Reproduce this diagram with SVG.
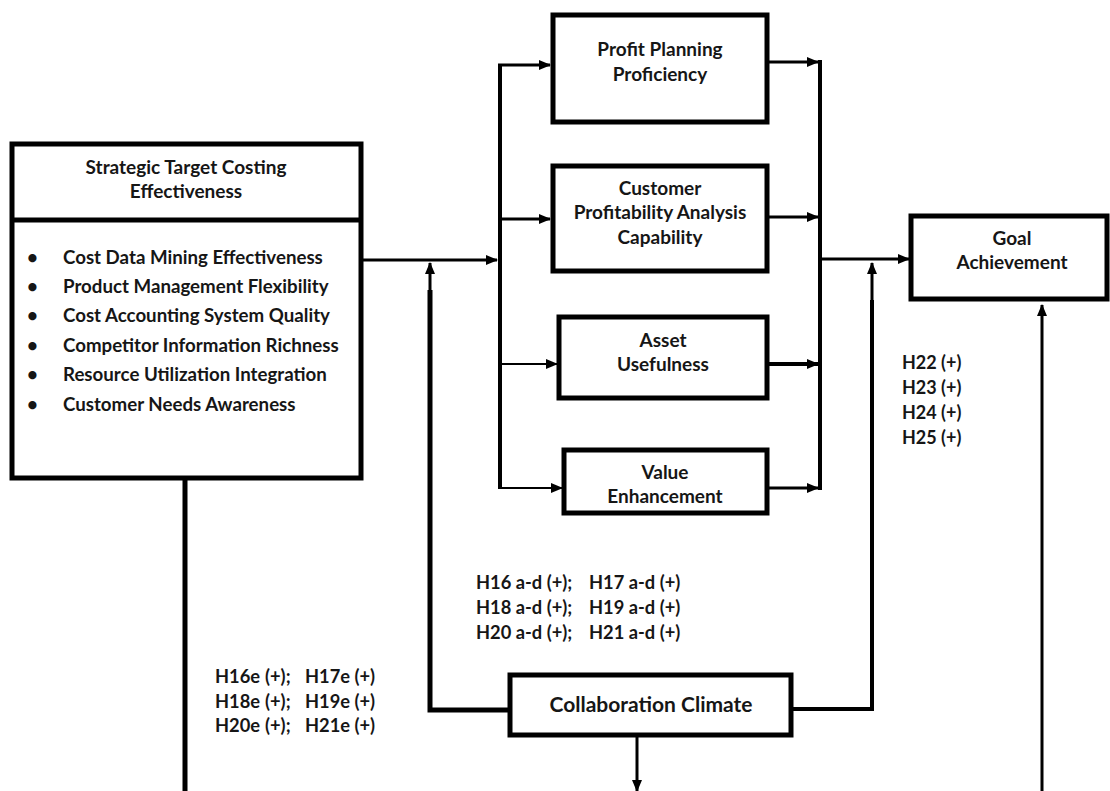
<svg xmlns="http://www.w3.org/2000/svg" width="1110" height="791" viewBox="0 0 1110 791">
<style>
text{font-family:Lato,"Open Sans","Liberation Sans",sans-serif;font-weight:bold;fill:#161616}
.t{font-size:19px;text-anchor:middle}
.blt{font-size:18.7px}
.hr{font-size:18px}
.h{font-size:18.3px}
.cc{font-size:21px;text-anchor:middle}
.box{fill:#fff;stroke:#000;stroke-width:5}
.ln{fill:none;stroke:#000;stroke-linejoin:miter}
</style>
<defs>
<marker id="ah" markerUnits="userSpaceOnUse" markerWidth="12" markerHeight="12" viewBox="0 0 12 12" refX="11" refY="6" orient="auto">
<path d="M0,1 L12,6 L0,11 z" fill="#000"/>
</marker>
</defs>
<rect width="1110" height="791" fill="#fff"/>
<g id="connectors">
<path class="ln" stroke-width="5" d="M185,478 V791"/>
<path class="ln" stroke-width="3" d="M361,260 H497" marker-end="url(#ah)"/>
<path class="ln" stroke-width="4" d="M500,65 V488"/>
<path class="ln" stroke-width="3" d="M498,65 H550" marker-end="url(#ah)"/>
<path class="ln" stroke-width="3" d="M500,219 H550" marker-end="url(#ah)"/>
<path class="ln" stroke-width="2" d="M500,364 H557" marker-end="url(#ah)"/>
<path class="ln" stroke-width="2" d="M498,488 H562" marker-end="url(#ah)"/>
<path class="ln" stroke-width="3" d="M767,62 H818" marker-end="url(#ah)"/>
<path class="ln" stroke-width="3" d="M767,217 H818" marker-end="url(#ah)"/>
<path class="ln" stroke-width="4" d="M767,364 H818" marker-end="url(#ah)"/>
<path class="ln" stroke-width="3" d="M767,488 H818" marker-end="url(#ah)"/>
<path class="ln" stroke-width="4" d="M820,60 V490"/>
<path class="ln" stroke-width="3" d="M820,259 H909" marker-end="url(#ah)"/>
<path class="ln" stroke-width="5" d="M510,710 H430 V290"/>
<path class="ln" stroke-width="3" d="M430,300 V263" marker-end="url(#ah)"/>
<path class="ln" stroke-width="4" d="M791,709 H872 V300"/>
<path class="ln" stroke-width="3" d="M872,300 V263" marker-end="url(#ah)"/>
<path class="ln" stroke-width="3" d="M1042,791 V305" marker-end="url(#ah)"/>
<path class="ln" stroke-width="3" d="M637,735 V791" marker-end="url(#ah)"/>
</g>
<g id="stce">
<rect class="box" x="12" y="144" width="349" height="334"/>
<line x1="12" y1="220" x2="361" y2="220" stroke="#000" stroke-width="5"/>
<text class="t" x="186" y="174">Strategic Target Costing</text>
<text class="t" x="186" y="198">Effectiveness</text>
<text class="blt" x="27" y="264">•</text><text class="blt" x="63" y="264">Cost Data Mining Effectiveness</text>
<text class="blt" x="27" y="293">•</text><text class="blt" x="63" y="293">Product Management Flexibility</text>
<text class="blt" x="27" y="322">•</text><text class="blt" x="63" y="322">Cost Accounting System Quality</text>
<text class="blt" x="27" y="352">•</text><text class="blt" x="63" y="352">Competitor Information Richness</text>
<text class="blt" x="27" y="381">•</text><text class="blt" x="63" y="381">Resource Utilization Integration</text>
<text class="blt" x="27" y="411">•</text><text class="blt" x="63" y="411">Customer Needs Awareness</text>
</g>
<g id="ppp">
<rect class="box" x="553" y="15" width="214" height="107"/>
<text class="t" x="660" y="56">Profit Planning</text>
<text class="t" x="660" y="81">Proficiency</text>
</g>
<g id="cpac">
<rect class="box" x="553" y="166" width="214" height="105"/>
<text class="t" x="660" y="195">Customer</text>
<text class="t" x="660" y="219">Profitability Analysis</text>
<text class="t" x="660" y="244">Capability</text>
</g>
<g id="asset">
<rect class="box" x="559" y="317" width="208" height="81"/>
<text class="t" x="663" y="347">Asset</text>
<text class="t" x="663" y="371">Usefulness</text>
</g>
<g id="value">
<rect class="box" x="564" y="450" width="203" height="63"/>
<text class="t" x="665" y="479">Value</text>
<text class="t" x="665" y="503">Enhancement</text>
</g>
<g id="goal">
<rect class="box" x="911" y="216" width="196" height="83"/>
<text class="t" x="1012" y="245">Goal</text>
<text class="t" x="1012" y="269">Achievement</text>
</g>
<g id="collab">
<rect class="box" x="510" y="675" width="281" height="60"/>
<text class="cc" x="651" y="712">Collaboration Climate</text>
</g>
<g id="labels">
<text class="hr" x="902" y="369">H22 (+)</text>
<text class="hr" x="902" y="394">H23 (+)</text>
<text class="hr" x="902" y="419">H24 (+)</text>
<text class="hr" x="902" y="444">H25 (+)</text>
<text class="h" x="476" y="589">H16 a-d (+);<tspan x="589">H17 a-d (+)</tspan></text>
<text class="h" x="476" y="614">H18 a-d (+);<tspan x="589">H19 a-d (+)</tspan></text>
<text class="h" x="476" y="639">H20 a-d (+);<tspan x="589">H21 a-d (+)</tspan></text>
<text class="h" x="215" y="683">H16e<tspan x="265">(+);</tspan><tspan x="305">H17e (+)</tspan></text>
<text class="h" x="215" y="708">H18e<tspan x="265">(+);</tspan><tspan x="305">H19e (+)</tspan></text>
<text class="h" x="215" y="732">H20e<tspan x="265">(+);</tspan><tspan x="305">H21e (+)</tspan></text>
</g>
</svg>
